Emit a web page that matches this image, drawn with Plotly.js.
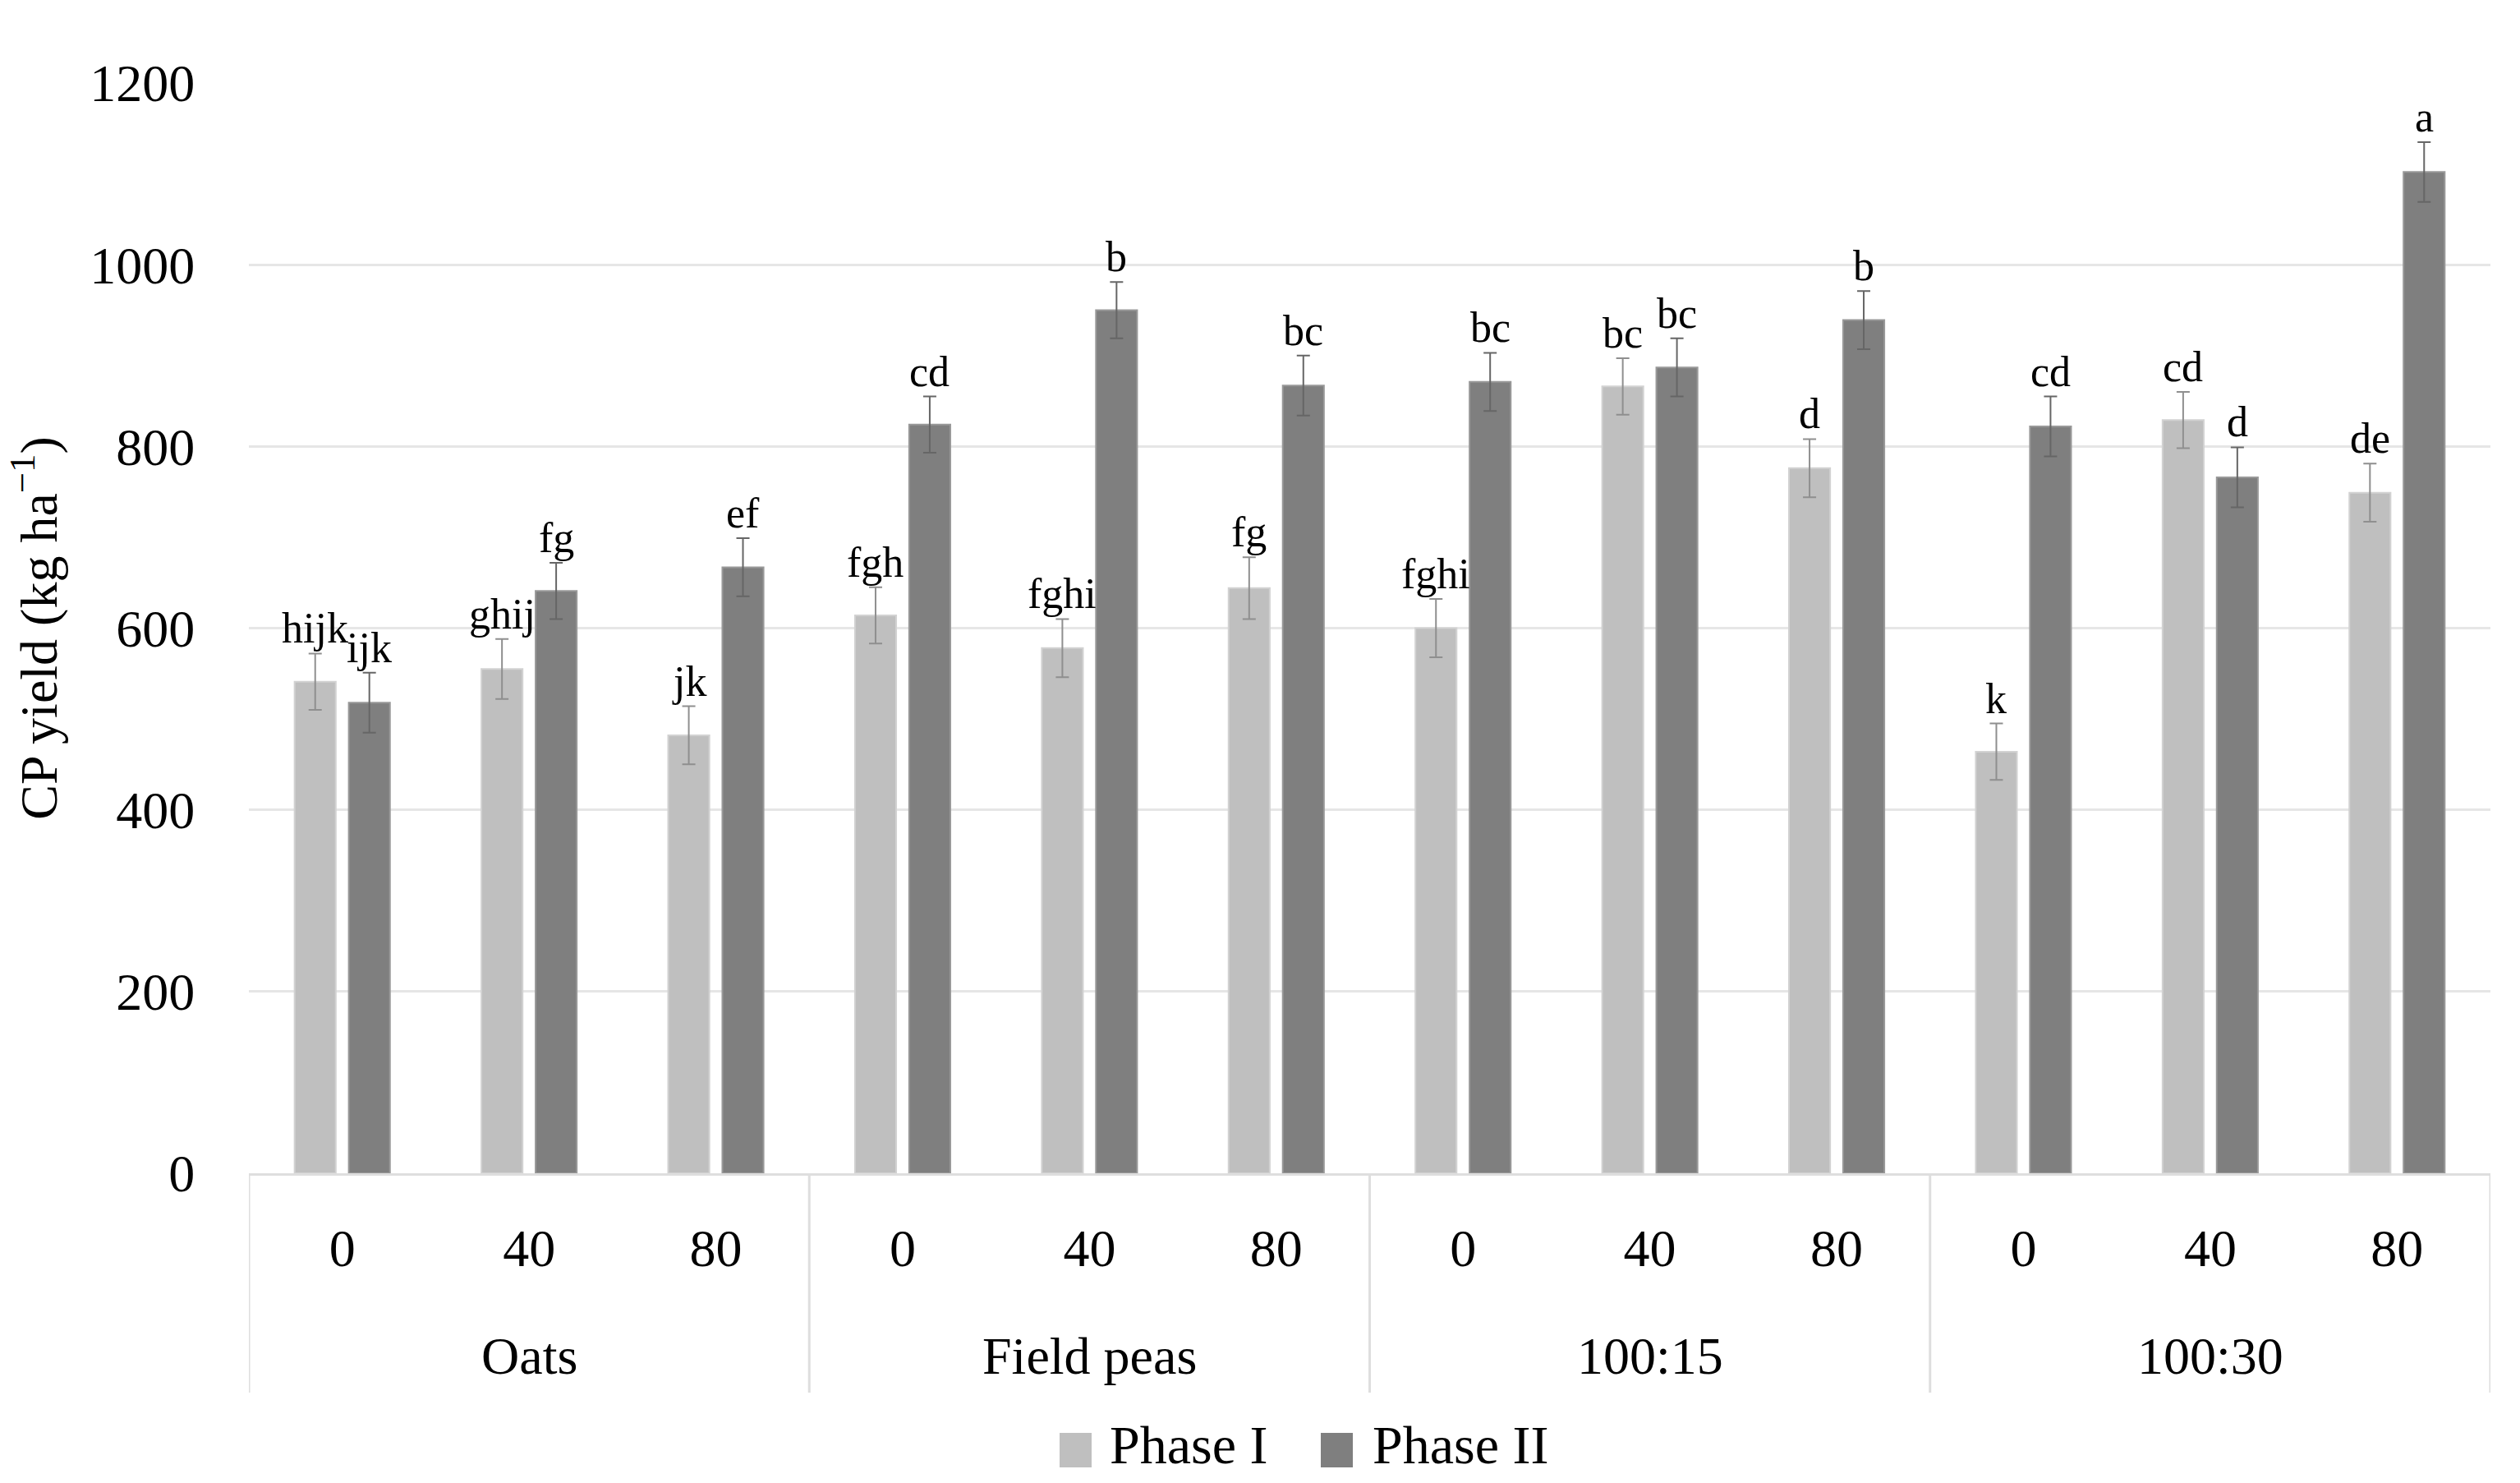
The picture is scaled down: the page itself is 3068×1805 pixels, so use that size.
<!DOCTYPE html>
<html><head><meta charset="utf-8">
<script src="https://cdn.plot.ly/plotly-3.0.1.min.js"></script>
<style>html,body{margin:0;padding:0;background:#fff}</style>
</head><body><div id="chart" style="width:3068px;height:1805px"></div>
<script>
// ---- data ----
const groups = ["Oats","Oats","Oats","Field peas","Field peas","Field peas","100:15","100:15","100:15","100:30","100:30","100:30"];
const nRates = ["0","40","80","0","40","80","0","40","80","0","40","80"];
const phase1 = [541, 555, 482, 614, 578, 644, 600, 866, 776, 464, 829, 749];
const phase2 = [518, 641, 667, 824, 950, 867, 871, 887, 939, 822, 766, 1102];
const err1 = [31, 33, 32, 31, 32, 34, 32, 31, 32, 31, 31, 32];
const err2 = [33, 31, 32, 31, 31, 33, 32, 32, 32, 33, 33, 33];
const letters1 = ["hijk","ghij","jk","fgh","fghi","fg","fghi","bc","d","k","cd","de"];
const letters2 = ["ijk","fg","ef","cd","b","bc","bc","bc","b","cd","d","a"];
const seriesNames = ["Phase I", "Phase II"];
const yTicks = [0, 200, 400, 600, 800, 1000, 1200];

// ---- style ----
const W = 3068, H = 1805;
const M = {l: 303, r: 36, t: 101, b: 377};
const FONT = "Liberation Serif, Times New Roman, serif";
const C1 = "#bfbfbf", C2 = "#7f7f7f";
const BARGAP = 0.42, BARGROUPGAP = 0.24;
const plotW = W - M.l - M.r, plotH = H - M.t - M.b;
const pxY = y => -(y - (H - M.b)) / plotH;   // pixel row -> paper y
const pxX = x => (x - M.l) / plotW;           // pixel col -> paper x

const idx = nRates.map((_, i) => i);
const off = (1 - BARGAP) / 4;

const traces = [
  {type: "bar", x: idx, y: phase1, name: seriesNames[0], showlegend: false,
   marker: {color: C1, line: {color: "#d2d2d2", width: 2}},
   error_y: {type: "data", array: err1, visible: true, color: "#8f8f8f", thickness: 2, width: 8}},
  {type: "bar", x: idx, y: phase2, name: seriesNames[1], showlegend: false,
   marker: {color: C2, line: {color: "#999999", width: 2}},
   error_y: {type: "data", array: err2, visible: true, color: "#666666", thickness: 2, width: 8}}
];

const annotations = [];
idx.forEach(i => {
  annotations.push({x: i - off, y: phase1[i] + err1[i], xref: "x", yref: "y", text: letters1[i],
    showarrow: false, yanchor: "bottom", yshift: 0, font: {family: FONT, size: 52, color: "#000"}});
  annotations.push({x: i + off, y: phase2[i] + err2[i], xref: "x", yref: "y", text: letters2[i],
    showarrow: false, yanchor: "bottom", yshift: 0, font: {family: FONT, size: 52, color: "#000"}});
});

// group labels and dividers
const shapes = [];
const uniq = [...new Set(groups)];
uniq.forEach(g => {
  const ids = idx.filter(i => groups[i] === g);
  const first = ids[0], last = ids[ids.length - 1];
  annotations.push({x: (first + last) / 2, y: pxY(1650), xref: "x", yref: "paper", text: g,
    showarrow: false, yanchor: "middle", font: {family: FONT, size: 64, color: "#000"}});
  shapes.push({type: "line", xref: "x", yref: "paper", x0: first - 0.5, x1: first - 0.5,
    y0: 0, y1: pxY(1695), line: {color: "#dedede", width: 3}});
  if (g === uniq[uniq.length - 1]) {
    shapes.push({type: "line", xref: "x", yref: "paper", x0: last + 0.5, x1: last + 0.5,
      y0: 0, y1: pxY(1695), line: {color: "#dedede", width: 3}});
  }
});

// manual legend
const legendItems = [
  {color: C1, sx0: 1290, sx1: 1329, tx: 1349},
  {color: C2, sx0: 1608, sx1: 1647, tx: 1669}
];
legendItems.forEach((it, k) => {
  shapes.push({type: "rect", xref: "paper", yref: "paper", x0: pxX(it.sx0), x1: pxX(it.sx1),
    y0: pxY(1744), y1: pxY(1786), fillcolor: it.color, line: {width: 0}});
  annotations.push({x: pxX(it.tx), y: pxY(1758), xref: "paper", yref: "paper", text: seriesNames[k],
    xanchor: "left", yanchor: "middle", showarrow: false, font: {family: FONT, size: 66, color: "#000"}});
});

const layout = {
  width: W, height: H, margin: M,
  paper_bgcolor: "#fff", plot_bgcolor: "#fff",
  barmode: "group", bargap: BARGAP, bargroupgap: BARGROUPGAP,
  showlegend: false,
  font: {family: FONT, color: "#000"},
  xaxis: {
    range: [-0.5, idx.length - 0.5], tickmode: "array", tickvals: idx, ticktext: nRates,
    tickfont: {family: FONT, size: 64, color: "#000"},
    showgrid: false, zeroline: false, showline: true, linecolor: "#dedede", linewidth: 3,
    ticks: "outside", ticklen: 0, tickcolor: "rgba(0,0,0,0)", ticklabelstandoff: 33
  },
  yaxis: {
    range: [0, 1200], tickmode: "array", tickvals: yTicks,
    tickfont: {family: FONT, size: 64, color: "#000"},
    showgrid: true, gridcolor: "#e6e6e6", gridwidth: 3, zeroline: false, showline: false,
    ticks: "outside", ticklen: 0, tickcolor: "rgba(0,0,0,0)", ticklabelstandoff: 52,
    title: {text: "CP yield (kg ha<sup>−1</sup>)", font: {family: FONT, size: 64, color: "#000"}, standoff: 18}
  },
  shapes: shapes,
  annotations: annotations
};

Plotly.newPlot("chart", traces, layout, {displayModeBar: false, staticPlot: true});
</script>
</body></html>
